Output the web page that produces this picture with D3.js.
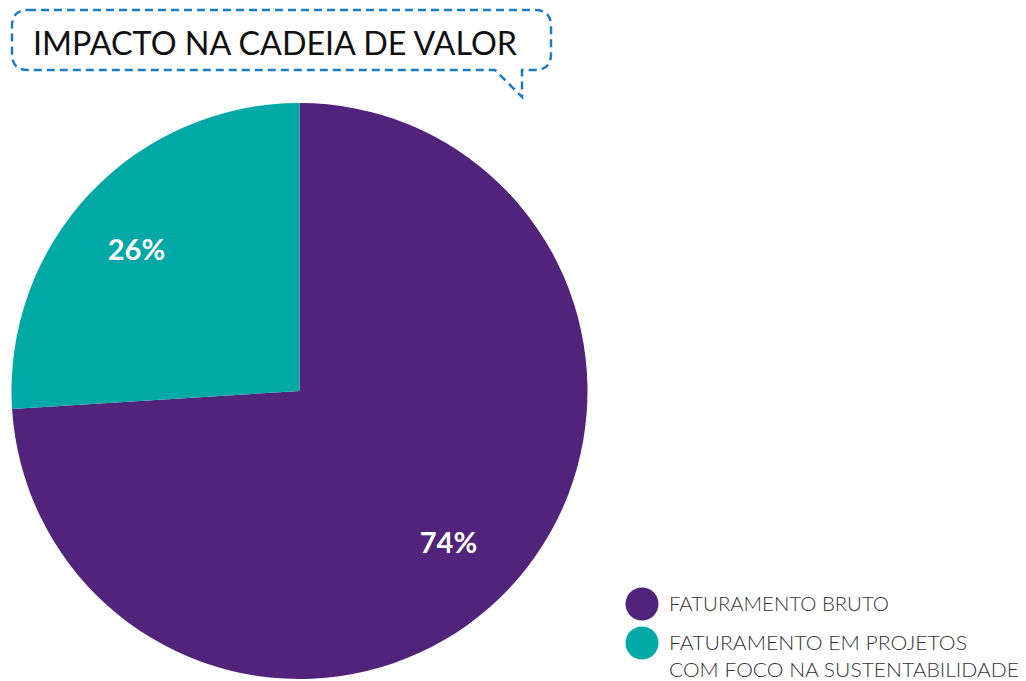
<!DOCTYPE html>
<html>
<head>
<meta charset="utf-8">
<script src="https://cdn.jsdelivr.net/npm/d3@7"></script>
<style>
  body { margin: 0; background: #fff; }
  svg { display: block; }
</style>
</head>
<body>
<div id="chartbox"></div>
<script>
var categories = ["FATURAMENTO BRUTO", "FATURAMENTO EM PROJETOS COM FOCO NA SUSTENTABILIDADE"];
var legendLines = [["FATURAMENTO BRUTO"], ["FATURAMENTO EM PROJETOS", "COM FOCO NA SUSTENTABILIDADE"]];
var legendWidths = [[220], [298, 350]];
var values = [74, 26];
var valueLabels = ["74%", "26%"];
var colors = ["#52237a", "#00a8a6"];
var title = "IMPACTO NA CADEIA DE VALOR";

var width = 1026, height = 681;
var svg = d3.select('#chartbox').append('svg')
    .attr('width', width)
    .attr('height', height);

// speech bubble title
svg.append('path')
    .attr('d', 'M28,10 H535 Q551,10 551,26 V54 Q551,70 535,70 H522 V97 L495,70 H28 Q12,70 12,54 V26 Q12,10 28,10 Z')
    .attr('fill', 'none')
    .attr('stroke', '#1a7dc4')
    .attr('stroke-width', 2.5)
    .attr('stroke-dasharray', '8,5');

svg.append('text')
    .attr('x', 33)
    .attr('y', 55)
    .attr('font-family', 'Lato, sans-serif')
    .attr('font-size', 33)
    .attr('textLength', 484)
    .attr('lengthAdjust', 'spacingAndGlyphs')
    .attr('fill', '#111')
    .text(title);

// pie
var cx = 299.5, cy = 391, r = 288;
var data = categories.map((c, i) => ({ key: c, value: values[i], label: valueLabels[i], color: colors[i] }));
var pie = d3.pie().sort(null).value(d => d.value);
var arc = d3.arc().innerRadius(0).outerRadius(r);
var labelArc = d3.arc().innerRadius(214).outerRadius(214);

var g = svg.append('g').attr('transform', 'translate(' + [cx, cy] + ')');
var arcs = pie(data);
g.selectAll('path')
    .data(arcs)
    .enter().append('path')
    .attr('d', arc)
    .attr('fill', d => d.data.color);

g.selectAll('text')
    .data(arcs)
    .enter().append('text')
    .attr('transform', d => {
      var c = labelArc.centroid(d);
      return 'translate(' + [c[0] - 7, c[1] + 5] + ')';
    })
    .attr('text-anchor', 'middle')
    .attr('dy', '0.36em')
    .attr('font-family', 'Lato, sans-serif')
    .attr('font-weight', 'bold')
    .attr('font-size', 29)
    .attr('fill', '#fff')
    .text(d => d.data.label);

// legend
var legend = svg.append('g').attr('transform', 'translate(642,604)');
var items = legend.selectAll('g')
    .data(data)
    .enter().append('g')
    .attr('transform', (d, i) => 'translate(0,' + i * 39 + ')');
items.append('circle')
    .attr('r', 16.5)
    .attr('fill', d => d.color);
items.each(function (d, i) {
  var t = d3.select(this).append('text')
      .attr('font-family', 'Lato, sans-serif')
      .attr('font-weight', 300)
      .attr('font-size', 20)
      .attr('fill', '#333');
  legendLines[i].forEach(function (line, j) {
    t.append('tspan')
        .attr('x', 27)
        .attr('y', 7 + j * 27)
        .attr('textLength', legendWidths[i][j])
        .attr('lengthAdjust', 'spacingAndGlyphs')
        .text(line);
  });
});
</script>
</body>
</html>
